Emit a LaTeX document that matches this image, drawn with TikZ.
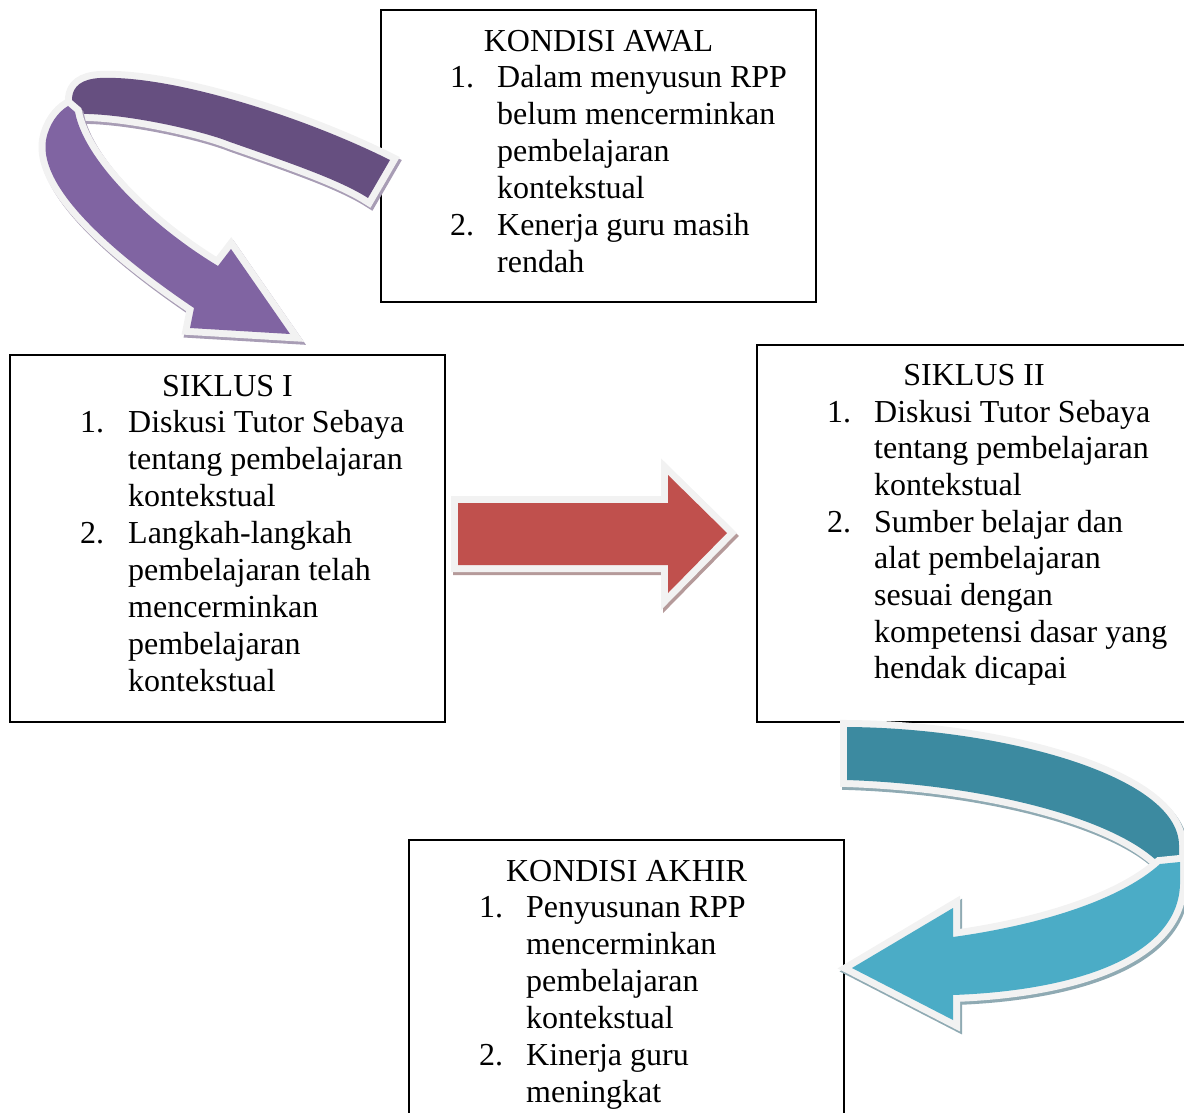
\documentclass[tikz,border=0pt]{standalone}
\usepackage{fontspec}
\setmainfont{Liberation Serif}
\usepackage{array}
\definecolor{purdark}{HTML}{664F80}
\definecolor{purlight}{HTML}{8064A2}
\definecolor{redarr}{HTML}{C0504D}
\definecolor{tealdark}{HTML}{3C8AA0}
\definecolor{teallight}{HTML}{4BACC6}
\definecolor{rim}{HTML}{F2F2F2}
\definecolor{purshadow}{HTML}{A89DB5}
\definecolor{redshadow}{HTML}{B59A9A}
\definecolor{tealshadow}{HTML}{8FAAB3}
\tikzset{
  box/.style={draw=black, line width=1.5pt, fill=white, rectangle, inner sep=0pt, outer sep=0pt},
  title/.style={anchor=base, inner sep=0pt},
  items/.style={anchor=base west, inner sep=0pt},
  rib/.style 2 args={fill=#1,
    preaction={draw=#2, fill=#2, line width=14pt, transform canvas={shift={(2,3)}}},
    preaction={draw=rim, line width=14pt}},
}
\newcommand{\itemlist}[2]{\begin{tabular}[t]{@{}p{#1}@{}l@{}}#2\end{tabular}}
\begin{document}
\begin{tikzpicture}[x=1pt,y=-1pt,font=\fontsize{32}{37}\selectfont]
\useasboundingbox (0,0) rectangle (1184,1113);
\clip (0,0) rectangle (1184,1113);

% boxes
\node[box, minimum width=435pt, minimum height=292pt] (awal) at (598.5,156) {};
\node[box, minimum width=435pt, minimum height=367pt] (s1) at (227.5,538.5) {};
\node[box, minimum width=434pt, minimum height=377pt] (s2) at (974,533.5) {};
\node[box, minimum width=435pt, minimum height=300pt] (akhir) at (626.5,990) {};

% texts
\node[title] (awal-t) at (awal.center |- 0,52) {KONDISI AWAL};
\node[items] (awal-l) at (450,88) {\itemlist{47pt}{1. & Dalam menyusun RPP\\ & belum mencerminkan\\ & pembelajaran\\ & kontekstual\\ 2. & Kenerja guru masih\\ & rendah}};

\node[title] (s1-t) at (s1.center |- 0,396) {SIKLUS I};
\node[items] (s1-l) at (80,432) {\itemlist{48pt}{1. & Diskusi Tutor Sebaya\\ & tentang pembelajaran\\ & kontekstual\\ 2. & Langkah-langkah\\ & pembelajaran telah\\ & mencerminkan\\ & pembelajaran\\ & kontekstual}};

\node[title] (s2-t) at (s2.center |- 0,385) {SIKLUS II};
\node[items, font=\fontsize{32}{36.7}\selectfont] (s2-l) at (827,422) {\itemlist{47pt}{1. & Diskusi Tutor Sebaya\\ & tentang pembelajaran\\ & kontekstual\\ 2. & Sumber belajar dan\\ & alat pembelajaran\\ & sesuai dengan\\ & kompetensi dasar yang\\ & hendak dicapai}};

\node[title] (akhir-t) at (akhir.center |- 0,881) {KONDISI AKHIR};
\node[items] (akhir-l) at (479,917) {\itemlist{47pt}{1. & Penyusunan RPP\\ & mencerminkan\\ & pembelajaran\\ & kontekstual\\ 2. & Kinerja guru\\ & meningkat}};

% purple curved arrow (KONDISI AWAL -> SIKLUS I)
\path[rib={purdark}{purshadow}]
  (390,160) .. controls (300,115) and (170,75) .. (100,78)
  .. controls (82,79) and (73,86) .. (72,98) -- (73,114)
  .. controls (120,112) and (200,130) .. (230,142)
  .. controls (290,163) and (340,180) .. (368,198) -- cycle;
\path[rib={purlight}{purshadow}]
  (75,112) .. controls (84,160) and (150,225) .. (218,266)
  -- (231,249) -- (290,334) -- (190,328) -- (194,308)
  .. controls (120,258) and (38,190) .. (46,140)
  .. controls (49,124) and (58,112) .. (68,106) -- cycle;

% red straight arrow (SIKLUS I -> SIKLUS II)
\path[rib={redarr}{redshadow}]
  (458,503) -- (668,503) -- (668,475) -- (727,533) -- (668,593)
  -- (668,565) -- (458,565) -- cycle;

% teal curved arrow (SIKLUS II -> KONDISI AKHIR)
\path[rib={tealdark}{tealshadow}]
  (847,727) .. controls (1000,728) and (1178,775) .. (1179,845)
  -- (1179,866) -- (1162,866)
  .. controls (1120,820) and (990,785) .. (847,780) -- cycle;
\path[rib={teallight}{tealshadow}]
  (1160,864) .. controls (1120,900) and (1040,925) .. (953,937)
  -- (953,908) -- (852,968) -- (953,1020) -- (953,995)
  .. controls (1090,990) and (1182,950) .. (1180,880) -- (1180,862) -- cycle;
\end{tikzpicture}
\end{document}
